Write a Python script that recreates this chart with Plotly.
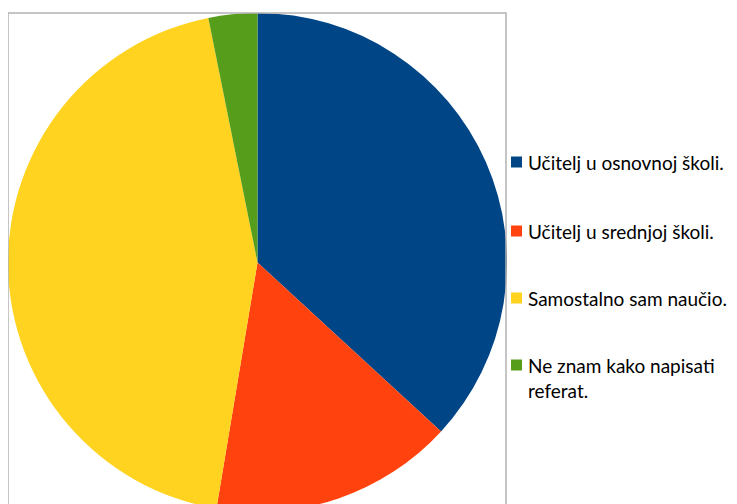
import plotly.graph_objects as go

labels = ["Učitelj u osnovnoj školi.", "Učitelj u srednjoj školi.",
          "Samostalno sam naučio.", "Ne znam kako napisati<br>referat."]
values = [35, 15, 42, 3]
colors = ["#004586", "#ff420e", "#ffd320", "#579d1c"]

# page body has an 8px margin; work in screen coordinates and subtract it
OFF = 8
W, H = 729, 504


def px(x):
    return (x - OFF) / W


def py(y):
    return 1 - (y - OFF) / H


fig = go.Figure(go.Pie(
    labels=labels, values=values, sort=False, direction="clockwise", rotation=0,
    marker=dict(colors=colors, line=dict(width=0)), textinfo="none",
    hoverinfo="label+percent", showlegend=False,
    domain=dict(x=[px(8), px(507)], y=[py(512), py(13)]),
))

shapes = [dict(type="rect", xref="paper", yref="paper",
               x0=px(8), x1=px(506), y0=-0.05, y1=py(13),
               line=dict(color="#b3b3b3", width=1.5), fillcolor="rgba(0,0,0,0)", layer="above")]
annotations = []
centers = [162, 231, 298, 365]
for i, (lab, col) in enumerate(zip(labels, colors)):
    cy = centers[i]
    shapes.append(dict(type="rect", xref="paper", yref="paper",
                       x0=px(511), x1=px(522), y0=py(cy + 5.5), y1=py(cy - 5.5),
                       fillcolor=col, line=dict(width=0)))
    nlines = lab.count("<br>") + 1
    annotations.append(dict(text=lab, xref="paper", yref="paper", x=px(526),
                            y=py(cy + 12.5 * (nlines - 1)), xanchor="left", yanchor="middle",
                            showarrow=False, align="left",
                            font=dict(family="Lato", size=19, color="#000000")))

fig.update_layout(width=W, height=H, margin=dict(l=0, r=0, t=0, b=0),
                  paper_bgcolor="white", plot_bgcolor="white",
                  shapes=shapes, annotations=annotations)
fig.write_html("out.html")
